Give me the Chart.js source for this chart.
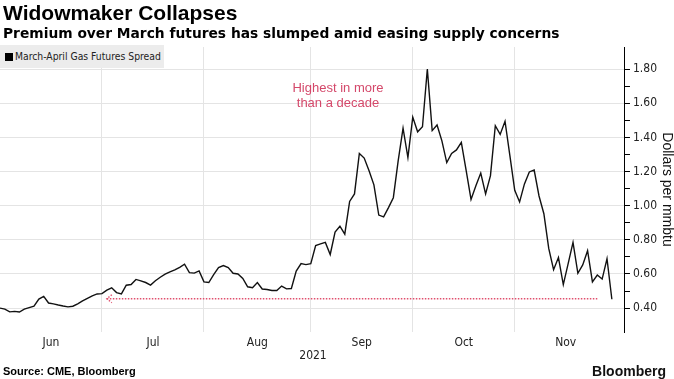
<!DOCTYPE html>
<html><head><meta charset="utf-8">
<script src="https://cdn.jsdelivr.net/npm/chart.js@4/dist/chart.umd.min.js"></script>
<style>
html,body{margin:0;padding:0;background:#fff;width:674px;height:379px;overflow:hidden;}
#wrap{position:relative;width:674px;height:379px;}
#c{position:absolute;left:0;top:0;}
.t{position:absolute;white-space:nowrap;color:#000;}
#title{left:3px;top:1px;font:bold 21px "Liberation Sans",Arial,sans-serif;}
#sub{left:3px;top:25px;font:bold 13.8px "DejaVu Sans",sans-serif;}
#legend{position:absolute;left:0;top:45px;width:164px;height:23px;background:#ececec;}
#legend .sq{position:absolute;left:5px;top:8px;width:8px;height:8px;background:#000;}
#legend .lt{position:absolute;left:15px;top:5px;font:10.3px "DejaVu Sans Condensed","DejaVu Sans",sans-serif;color:#222;white-space:nowrap;}
#year{left:0;width:626px;text-align:center;top:348px;font:12px "DejaVu Sans Condensed","DejaVu Sans",sans-serif;color:#222;}
#src{left:3px;top:365px;font:bold 11px "Liberation Sans",Arial,sans-serif;}
#bbg{right:8px;top:363px;font:bold 14px "Liberation Sans",Arial,sans-serif;color:#111;}
</style></head>
<body><div id="wrap">
<canvas id="c" width="674" height="379"></canvas>
<div class="t" id="title">Widowmaker Collapses</div>
<div class="t" id="sub">Premium over March futures has slumped amid easing supply concerns</div>
<div id="legend"><div class="sq"></div><div class="lt">March-April Gas Futures Spread</div></div>
<div class="t" id="year"></div>
<div class="t" id="src">Source: CME, Bloomberg</div>
<div class="t" id="bbg">Bloomberg</div>
</div>
<script>
// ---- data ----
const seriesName = 'March-April Gas Futures Spread';
const holidays = ['2021-07-05', '2021-09-06', '2021-11-25'];
const firstDay = '2021-06-02';
const lastDay = '2021-11-30';
const monthLabels = ['Jun', 'Jul', 'Aug', 'Sep', 'Oct', 'Nov'];
const yearLabel = '2021';
const yTickLabels = [0.40, 0.60, 0.80, 1.00, 1.20, 1.40, 1.60, 1.80];
const spreadValues = [
  0.400,0.394,0.378,0.381,0.377,0.394,0.403,0.411,0.453,0.469,
  0.430,0.425,0.418,0.412,0.407,0.411,0.425,0.442,0.457,0.472,
  0.483,0.485,0.505,0.519,0.491,0.483,0.534,0.538,0.568,0.560,
  0.550,0.535,0.560,0.581,0.599,0.612,0.624,0.639,0.657,0.608,
  0.605,0.618,0.554,0.550,0.596,0.637,0.649,0.637,0.604,0.600,
  0.574,0.525,0.519,0.550,0.512,0.509,0.503,0.503,0.529,0.513,
  0.515,0.617,0.661,0.655,0.661,0.767,0.776,0.785,0.714,0.846,
  0.880,0.833,1.025,1.069,1.306,1.279,1.205,1.122,0.945,0.935,
  0.989,1.047,1.264,1.454,1.282,1.519,1.433,1.463,1.801,1.440,
  1.473,1.380,1.253,1.306,1.327,1.371,1.205,1.037,1.117,1.191,
  1.069,1.176,1.469,1.418,1.495,1.294,1.090,1.022,1.128,1.198,
  1.209,1.057,0.953,0.750,0.625,0.696,0.538,0.661,0.785,0.604,
  0.653,0.736,0.554,0.594,0.570,0.689,0.452
];
const annotationLines = ['Highest in more', 'than a decade'];
const refLevel = 0.455;          // current level marker
const refFromDate = '2021-07-02';
const refToDate = '2021-11-24';
document.getElementById('year').textContent = yearLabel;

// ---- trading-day categories ----
const tradingDays = [];
for (let d = new Date(firstDay + 'T00:00:00Z'); d <= new Date(lastDay + 'T00:00:00Z'); d.setUTCDate(d.getUTCDate() + 1)) {
  const wd = d.getUTCDay(); const s = d.toISOString().slice(0, 10);
  if (wd !== 0 && wd !== 6 && !holidays.includes(s)) tradingDays.push(s);
}
const monthStarts = [];
tradingDays.forEach((s, i) => { if (i > 0 && s.slice(5, 7) !== tradingDays[i - 1].slice(5, 7)) monthStarts.push(i); });
const bounds = [0, ...monthStarts, tradingDays.length];
const labelPos = {};
monthLabels.forEach((m, k) => { labelPos[(bounds[k] + bounds[k + 1]) / 2] = m; });
const gridSet = new Set(monthStarts);

const annot = {
  id: 'annot',
  afterDatasetsDraw(chart) {
    const xs = chart.scales.x, ys = chart.scales.y, ctx = chart.ctx;
    ctx.save();
    const x0 = xs.getPixelForValue(tradingDays.indexOf(refFromDate));
    const x1 = xs.getPixelForValue(tradingDays.indexOf(refToDate));
    const y = ys.getPixelForValue(refLevel);
    ctx.strokeStyle = '#e0506e'; ctx.lineWidth = 1.4; ctx.setLineDash([1.5, 1.5]);
    ctx.beginPath(); ctx.moveTo(x0, y); ctx.lineTo(x1, y); ctx.stroke();
    ctx.beginPath(); ctx.moveTo(x0 + 5, y - 4); ctx.lineTo(x0, y); ctx.lineTo(x0 + 5, y + 4); ctx.stroke();
    ctx.setLineDash([]);
    ctx.fillStyle = '#d4486a'; ctx.font = '13px "Liberation Sans", Arial, sans-serif';
    ctx.textAlign = 'center'; ctx.textBaseline = 'middle';
    const tx = xs.getPixelForValue(69.6);
    ctx.fillText(annotationLines[0], tx, ys.getPixelForValue(1.69));
    ctx.fillText(annotationLines[1], tx, ys.getPixelForValue(1.60));
    ctx.restore();
  }
};

new Chart(document.getElementById('c'), {
  type: 'line',
  data: {
    datasets: [{
      label: seriesName,
      data: spreadValues.map((v, i) => ({ x: i, y: v })),
      borderColor: '#111', borderWidth: 1.4, pointRadius: 0, tension: 0, fill: false
    }]
  },
  options: {
    responsive: false, animation: false,
    layout: { padding: { top: 47, left: 0, right: -2, bottom: 25 } },
    plugins: { legend: { display: false }, tooltip: { enabled: false } },
    scales: {
      x: {
        type: 'linear', min: 0, max: 128.7,
        afterBuildTicks(scale) {
          const vals = [...monthStarts, ...Object.keys(labelPos).map(Number)].sort((a, b) => a - b);
          scale.ticks = vals.map(v => ({ value: v }));
        },
        ticks: {
          autoSkip: false, maxRotation: 0, padding: 5, color: '#222',
          font: { family: '"DejaVu Sans Condensed", "DejaVu Sans", sans-serif', size: 12, lineHeight: 1.0 },
          callback: v => labelPos[v] || ''
        },
        grid: { drawTicks: false, color: c => (c.tick && gridSet.has(c.tick.value)) ? '#e4e4e4' : 'rgba(0,0,0,0)' },
        border: { display: false }
      },
      y: {
        position: 'right', min: 0.26, max: 1.93,
        afterBuildTicks(scale) {
          const t = [];
          for (let k = 4; k <= 18; k++) t.push({ value: k / 10 });
          scale.ticks = t;
        },
        ticks: {
          padding: 3, color: '#222', autoSkip: false,
          font: { family: '"DejaVu Sans Condensed", "DejaVu Sans", sans-serif', size: 12 },
          callback: v => { const r = Math.round(v * 10); return (r % 2 === 0 && yTickLabels.includes(r / 10)) ? (r / 10).toFixed(2) : ''; }
        },
        grid: {
          tickLength: 5, tickColor: '#000',
          color: c => (c.tick && Math.round(c.tick.value * 10) % 2 === 0) ? '#e4e4e4' : 'rgba(0,0,0,0)'
        },
        border: { display: true, color: '#000', width: 1 },
        title: { display: true, text: 'Dollars per mmbtu', color: '#111', padding: { top: 2, bottom: 0 },
          font: { family: '"Liberation Sans", Arial, sans-serif', size: 14, lineHeight: 1.0 } }
      }
    }
  },
  plugins: [annot]
});
</script>
</body></html>
